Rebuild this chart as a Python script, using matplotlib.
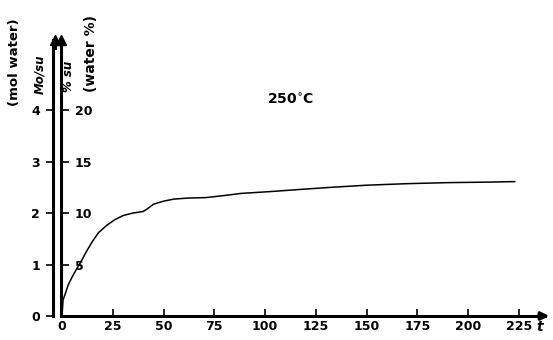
import matplotlib.pyplot as plt
import matplotlib.transforms as mtransforms

# water uptake at 250 C
time = [0, 0.5, 1.5, 3, 5, 7, 9, 12, 15, 18, 22, 26, 30, 35, 40, 42, 45, 50, 55, 62,
        71, 80, 88, 96, 104, 118, 133, 150, 170, 190, 210, 223]
mol_water = [0, 0.31, 0.42, 0.60, 0.76, 0.90, 1.03, 1.25, 1.45, 1.62, 1.76, 1.87, 1.95,
             2.00, 2.03, 2.08, 2.17, 2.23, 2.27, 2.29, 2.30, 2.34, 2.38, 2.40, 2.42, 2.46,
             2.50, 2.54, 2.57, 2.59, 2.60, 2.61]
x_ticks = [0, 25, 50, 75, 100, 125, 150, 175, 200, 225]
x_ticklabels = ['0', '25', '50', '75', '100', '125', '150', '175', '200', '225']
mol_ticks = [0, 1, 2, 3, 4]
pct_ticks = [5, 10, 15, 20]
pct_per_mol = 5

W, H = 553, 340
fig = plt.figure(figsize=(W / 100, H / 100), dpi=100)
plt.rcParams['font.weight'] = 'bold'

# axes box in pixels: left at the % axis line, bottom at y=0
left, right, bottom, top = 61, 545, 316, 40
ax = fig.add_axes([left / W, (H - bottom) / H, (right - left) / W, (bottom - top) / H])
ax.set_xlim(-0.5, 237.9)
ax.set_ylim(0, 5.36)

ax.plot(time, mol_water, color='black', linewidth=1.1)

for s in ['top', 'right']:
    ax.spines[s].set_visible(False)
ax.spines['left'].set_position(('outward', 6))
ax.spines['left'].set_linewidth(2.2)
ax.spines['bottom'].set_linewidth(2.2)

ax.set_xticks(x_ticks)
ax.set_xticklabels(x_ticklabels)
ax.tick_params(axis='x', direction='in', length=5, width=1.2, labelsize=9, pad=3)
ax.set_yticks(mol_ticks)
ax.tick_params(axis='y', direction='out', length=5, width=1.2, labelsize=9, pad=4)

# second (%) axis sharing the same line position
ax2 = ax.twinx()
ax2.set_ylim(0, 5.36 * pct_per_mol)
for s in ['top', 'left', 'bottom']:
    ax2.spines[s].set_visible(False)
ax2.spines['right'].set_position(('axes', 0))
ax2.spines['right'].set_linewidth(2.2)
ax2.set_yticks(pct_ticks)
ax2.tick_params(axis='y', direction='out', length=6, width=1.2, labelsize=9, pad=4)

# arrow heads on the axes
mol_tr = mtransforms.offset_copy(ax.transAxes, fig, x=-6, y=0, units='dots')
ax.plot([0], [1.0], marker='^', color='black', markersize=7, clip_on=False, transform=mol_tr)
ax.plot([0, 0], [0.97, 1.0], color='black', linewidth=2.2, clip_on=False, transform=mol_tr)
ax.plot([0], [1.0], marker='^', color='black', markersize=7, clip_on=False, transform=ax.transAxes)
ax.annotate('', xy=(W - 1, H - bottom), xycoords='figure pixels',
            xytext=(right - 10, H - bottom), textcoords='figure pixels',
            arrowprops=dict(arrowstyle='-|>', color='black', linewidth=2.2, mutation_scale=12))
fig.text(540 / W, 1 - 327 / H, 't', fontsize=10, style='italic', ha='center', va='center')

# rotated axis titles
fig.text(15 / W, 1 - 62 / H, '(mol water)', rotation=90, fontsize=9.5, ha='center', va='center')
fig.text(40 / W, 1 - 74 / H, 'Mo/su', rotation=90, fontsize=8.5, style='italic', ha='center', va='center')
fig.text(69 / W, 1 - 76 / H, '% su', rotation=90, fontsize=8.5, style='italic', ha='center', va='center')
fig.text(91 / W, 1 - 53 / H, '(water %)', rotation=90, fontsize=10, ha='center', va='center')

fig.text(290 / W, 1 - 100 / H, '250$^{\\circ}$C', fontsize=10, fontweight='bold', ha='center', va='center')

fig.savefig('out.png', dpi=100)
